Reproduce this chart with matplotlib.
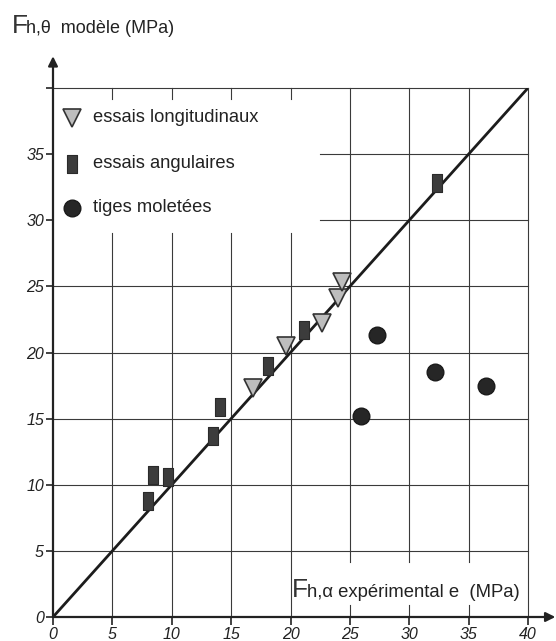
import matplotlib
matplotlib.use("Agg")
import matplotlib.pyplot as plt

plt.rcParams["font.family"] = ["Liberation Sans", "DejaVu Sans"]

# ── Data ─────────────────────────────────────────────────────────────────────
long_x = [16.8, 19.6, 22.65, 24.0, 24.3]            # essais longitudinaux
long_y = [17.3, 20.5, 22.2, 24.15, 25.3]
ang_x = [8.0, 8.4, 9.7, 13.45, 14.05, 18.1, 21.1, 32.3]   # essais angulaires
ang_y = [8.8, 10.7, 10.6, 13.7, 15.9, 19.0, 21.7, 32.8]
mol_x = [25.9, 27.25, 32.2, 36.5]                    # tiges moletées
mol_y = [15.2, 21.3, 18.5, 17.45]

ticks = [0, 5, 10, 15, 20, 25, 30, 35, 40]
x_tick_labels = ["0", "5", "10", "15", "20", "25", "30", "35", "40"]
y_tick_labels = ["0", "5", "10", "15", "20", "25", "30", "35", ""]
labels = ["essais longitudinaux", "essais angulaires", "tiges moletées"]

W, H = 556, 641
fig = plt.figure(figsize=(W / 100, H / 100), dpi=100)
ax = fig.add_axes([53 / W, 1 - 617 / H, 475 / W, 529 / H])
ax.set_xlim(0, 40)
ax.set_ylim(0, 40)
for s in ax.spines.values():
    s.set_visible(False)

grid_kw = dict(color="#3a3a3a", lw=0.8, clip_on=False, zorder=1)

# vertical grid lines (left ones stop below the legend, right ones leave room for the label)
for x in [5, 10, 15, 20]:
    ax.plot([x, x], [0, 29], **grid_kw)
    ax.plot([x, x], [39.2, 40], **grid_kw)
for x in [25, 30, 35]:
    ax.plot([x, x], [4.15, 40], **grid_kw)
    ax.plot([x, x], [0, 0.9], **grid_kw)
ax.plot([40, 40], [0, 40], **grid_kw)

# horizontal grid lines
for y in [5, 10, 15, 20, 25, 40]:
    ax.plot([0, 40], [y, y], **grid_kw)
for y in [30, 35]:
    ax.plot([22.5, 40], [y, y], **grid_kw)

# diagonal y = x
ax.plot([0, 40], [0, 40], color="#1c1c1c", lw=2.0, zorder=2, solid_capstyle="round")

# axes with arrows
arrow_kw = dict(arrowstyle="-|>", color="#222222", lw=1.6, mutation_scale=14,
                shrinkA=0, shrinkB=0)
ax.annotate("", xy=(42.3, 0), xytext=(0, 0), arrowprops=arrow_kw, annotation_clip=False)
ax.annotate("", xy=(0, 42.4), xytext=(0, 0), arrowprops=arrow_kw, annotation_clip=False)

rect = [(-0.6, -1), (0.6, -1), (0.6, 1), (-0.6, 1), (-0.6, -1)]
tri_kw = dict(marker="v", ms=12.5, mfc="#bdbdbd", mec="#333333", mew=1.2, ls="none")
sq_kw = dict(marker=rect, ms=13, mfc="#3c3c3c", mec="#2a2a2a", mew=0.8, ls="none")
dot_kw = dict(marker="o", ms=12, mfc="#262626", mec="#1a1a1a", ls="none")

ax.plot(long_x, long_y, zorder=4, **tri_kw)
ax.plot(ang_x, ang_y, zorder=4, **sq_kw)
ax.plot(mol_x, mol_y, zorder=4, **dot_kw)

# legend drawn by hand (no frame in the original)
leg_y = [37.76, 34.26, 30.94]
ax.plot(1.57, leg_y[0], **tri_kw)
ax.plot(1.57, leg_y[1], **sq_kw)
ax.plot(1.6, leg_y[2], **dot_kw)
for yy, lab in zip(leg_y, labels):
    ax.text(3.4, yy, lab, fontsize=13.2, va="center", ha="left", color="#222222")

# ticks
ax.set_xticks(ticks)
ax.set_xticklabels(x_tick_labels)
ax.set_yticks(ticks)
ax.set_yticklabels(y_tick_labels)
ax.tick_params(axis="x", length=6, width=1.2, direction="out", pad=1.5,
               labelsize=11.5, color="#222222")
ax.tick_params(axis="y", length=5, width=1.2, direction="out", pad=1.5,
               labelsize=11.5, color="#222222")
for lbl in ax.get_xticklabels() + ax.get_yticklabels():
    lbl.set_style("italic")
    lbl.set_color("#222222")

# axis titles
fig.text(12 / W, 1 - 33 / H, "F", fontsize=19, va="baseline", color="#333333")
fig.text(26 / W, 1 - 33 / H, "h,θ  modèle (MPa)", fontsize=13, va="baseline",
         color="#222222")
fig.text(292 / W, 1 - 597 / H, "F", fontsize=19, va="baseline", color="#333333")
fig.text(307 / W, 1 - 597 / H, "h,α expérimental e  (MPa)", fontsize=13.3,
         va="baseline", color="#222222")
ax.add_patch(plt.Rectangle((20.1, 1.0), 19.8, 3.1, color="white", zorder=0.5))

fig.savefig("out.png", dpi=100, facecolor="white")
